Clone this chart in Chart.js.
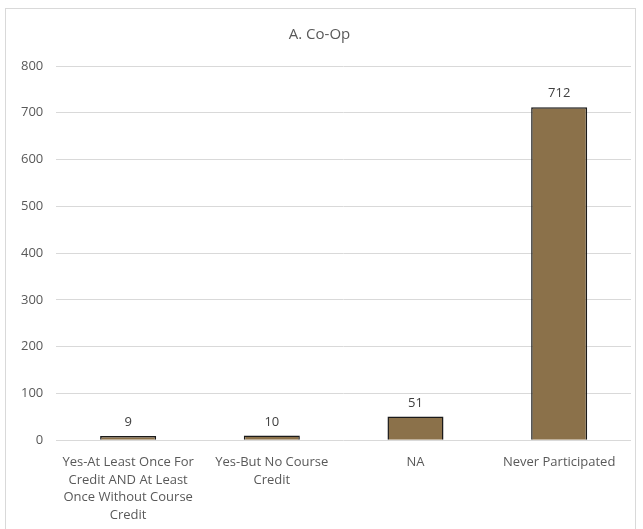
<!DOCTYPE html>
<html>
<head>
<meta charset="utf-8">
<script src="https://cdn.jsdelivr.net/npm/chart.js@4.4.0/dist/chart.umd.min.js"></script>
<style>
  html, body { margin: 0; padding: 0; background: #fff; }
  #frame { position: absolute; left: 5px; top: 8px; width: 631px; height: 530px; border: 1px solid #d9d9d9; box-sizing: border-box; }
  #wrap { position: absolute; left: 0; top: 0; width: 643px; height: 529px; }
</style>
</head>
<body>
<div id="frame"></div>
<div id="wrap"><canvas id="chart" width="643" height="529"></canvas></div>
<script>
const categories = [
  ['Yes-At Least Once For', 'Credit AND At Least', 'Once Without Course', 'Credit'],
  ['Yes-But No Course', 'Credit'],
  'NA',
  'Never Participated'
];
const counts = [9, 10, 51, 712];
const yTicks = [0, 100, 200, 300, 400, 500, 600, 700, 800];

const textColor = '#595959';
const fontFamily = '"Open Sans", "Noto Sans", sans-serif';

// value labels above each bar
const barLabels = {
  id: 'barLabels',
  afterDatasetsDraw(chart) {
    const ctx = chart.ctx;
    const meta = chart.getDatasetMeta(0);
    ctx.save();
    ctx.fillStyle = '#404040';
    ctx.font = '13px ' + fontFamily;
    ctx.textAlign = 'center';
    ctx.textBaseline = 'bottom';
    meta.data.forEach((bar, i) => {
      ctx.fillText(String(counts[i]), bar.x, bar.y - 7);
    });
    ctx.restore();
  }
};

new Chart(document.getElementById('chart'), {
  type: 'bar',
  data: {
    labels: categories,
    datasets: [{
      data: counts,
      backgroundColor: '#8b714a',
      borderColor: '#1a1a1a',
      borderWidth: 1.5,
      barPercentage: 0.39,
      categoryPercentage: 1
    }]
  },
  options: {
    responsive: false,
    animation: false,
    layout: { padding: { left: 8, right: 12, top: 16, bottom: 0 } },
    plugins: {
      legend: { display: false },
      tooltip: { enabled: false },
      title: {
        display: true,
        text: 'A. Co-Op',
        color: textColor,
        font: { family: fontFamily, size: 15, weight: 'normal' },
        padding: { top: 10, bottom: 22 }
      }
    },
    scales: {
      x: {
        grid: { display: false },
        border: { display: false },
        ticks: {
          color: textColor,
          font: { family: fontFamily, size: 13, lineHeight: 1.36 },
          maxRotation: 0,
          autoSkip: false,
          padding: 5
        }
      },
      y: {
        min: 0,
        max: 800,
        afterBuildTicks(axis) { axis.ticks = yTicks.map(v => ({ value: v })); },
        grid: { color: '#d9d9d9', lineWidth: 1, drawTicks: false },
        border: { display: false },
        ticks: {
          color: textColor,
          font: { family: fontFamily, size: 13 },
          padding: 13
        }
      }
    }
  },
  plugins: [barLabels]
});
</script>
</body>
</html>
